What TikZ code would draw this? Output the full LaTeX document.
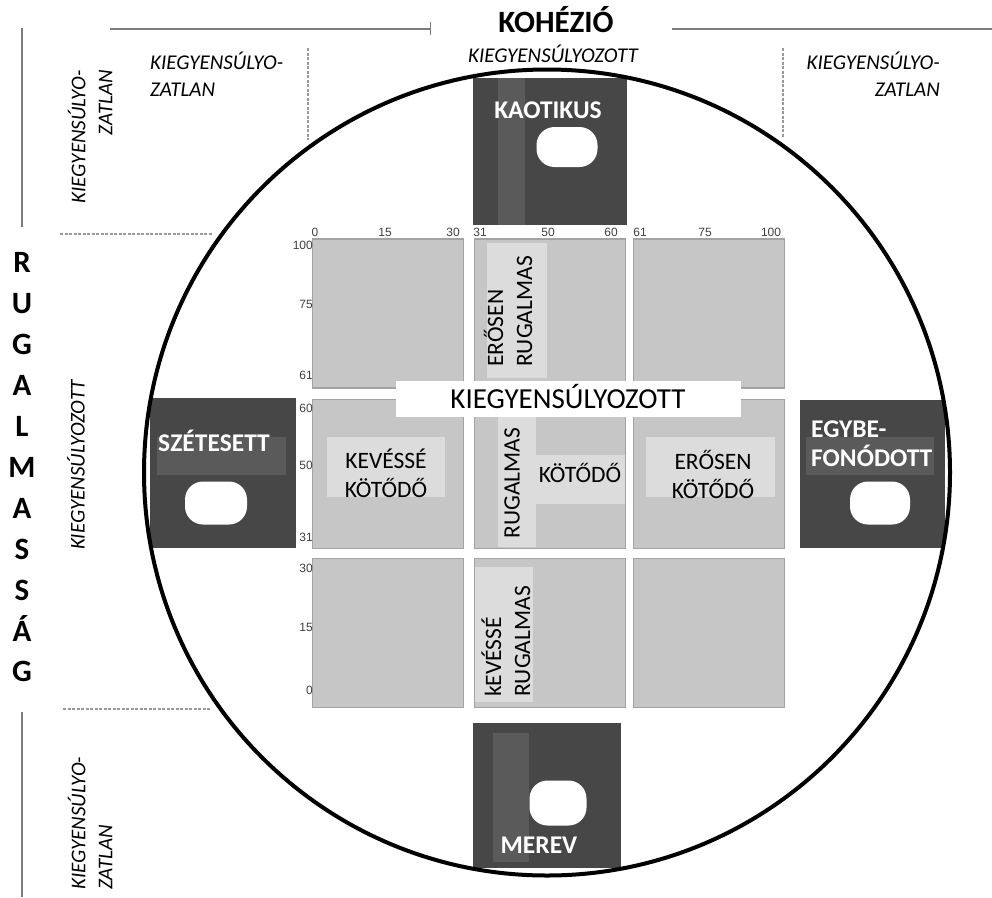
\documentclass[tikz,border=0pt]{standalone}
\usepackage{fontspec}
\setmainfont{Carlito}
\newfontfamily\tickfont{Liberation Sans}

\definecolor{darkfill}{HTML}{474747}
\definecolor{stripfill}{HTML}{5A5A5A}
\definecolor{cellfill}{HTML}{C6C6C6}
\definecolor{celledge}{HTML}{A3A3A3}
\definecolor{tagfill}{HTML}{DCDCDC}
\definecolor{rulegray}{HTML}{7C7C7C}

\tikzset{
  cell/.style={draw=celledge, line width=1.5pt, fill=cellfill, minimum width=151pt, minimum height=149pt, inner sep=0pt},
  darkbox/.style={fill=darkfill, inner sep=0pt},
  stripe/.style={fill=stripfill, inner sep=0pt},
  hole/.style={fill=white, rounded corners=18pt, inner sep=0pt},
  tagbox/.style={fill=tagfill, inner sep=0pt},
  tagtext/.style={font=\fontsize{23.5}{29}\selectfont, inner sep=0pt},
  boxtitle/.style={font=\fontsize{25.5}{29}\selectfont\bfseries, text=white, inner sep=0pt},
  slant/.style={font=\fontsize{21}{27}\selectfont\itshape, inner sep=0pt},
  tick/.style={font=\tickfont\fontsize{12}{12}\selectfont, text=black!75, inner sep=0pt},
  axisline/.style={draw=rulegray, line width=2.5pt},
  splitline/.style={draw=gray!80, line width=1.8pt, dash pattern=on 3pt off 1.5pt},
}

\begin{document}
\begin{tikzpicture}[x=1pt, y=-1pt]
    % Set the page
    \useasboundingbox (0,0) rectangle (992,897);
    \fill[white] (0,0) rectangle (992,897);

    % Draw the nine grid cells
    \node[cell] (c11) at (388,313.5) {};
    \node[cell] (c12) at (550,313.5) {};
    \node[cell] (c13) at (709,313.5) {};
    \node[cell] (c21) at (388,474) {};
    \node[cell] (c22) at (550,474) {};
    \node[cell] (c23) at (709,474) {};
    \node[cell] (c31) at (388,633) {};
    \node[cell] (c32) at (550,633) {};
    \node[cell] (c33) at (709,633) {};

    % Light label patches inside the cells
    \node[tagbox, minimum width=60pt, minimum height=135pt] (erbg) at (517,310.5) {};
    \node[tagbox, minimum width=38pt, minimum height=130pt] (rubg) at (517,482) {};
    \node[tagbox, minimum width=89pt, minimum height=49pt] (kobg) at (580.5,479.5) {};
    \node[tagbox, minimum width=118pt, minimum height=60pt] (kkbg) at (386,467) {};
    \node[tagbox, minimum width=129pt, minimum height=60pt] (ekbg) at (710.5,467) {};
    \node[tagbox, minimum width=58pt, minimum height=135pt] (krbg) at (504,634.5) {};

    \node[tagtext, rotate=90, align=left, anchor=west] (erosr) at (508,367) {ERŐSEN\\RUGALMAS};
    \node[tagtext, rotate=90] (rugm) at (512,483) {RUGALMAS};
    \node[tagtext] (kotm) at (580,473) {KÖTŐDŐ};
    \node[tagtext, align=center] (kevk) at (386,473) {KEVÉSSÉ\\KÖTŐDŐ};
    \node[tagtext, align=center] (erok) at (713,474) {ERŐSEN\\KÖTŐDŐ};
    \node[tagtext, rotate=90, align=left, anchor=west] (kevr) at (506,697) {kEVÉSSÉ\\RUGALMAS};

    % Middle label
    \node[fill=white, minimum width=345pt, minimum height=36pt, inner sep=0pt] (balbox) at (568.5,399) {};
    \node[font=\fontsize{29}{34}\selectfont, anchor=base, inner sep=0pt] (baltext) at (568,408) {KIEGYENSÚLYOZOTT};

    % Scale numbers on top
    \node[tick, anchor=base] (t0) at (315,236) {0};
    \node[tick, anchor=base] (t15) at (385,236) {15};
    \node[tick, anchor=base] (t30) at (453,236) {30};
    \node[tick, anchor=base] (t31) at (480,236) {31};
    \node[tick, anchor=base] (t50) at (548,236) {50};
    \node[tick, anchor=base] (t60) at (611,236) {60};
    \node[tick, anchor=base] (t61) at (640,236) {61};
    \node[tick, anchor=base] (t75) at (705,236) {75};
    \node[tick, anchor=base] (t100) at (771,236) {100};

    % Scale numbers on the left
    \node[tick, anchor=east] (l100) at (313,245) {100};
    \node[tick, anchor=east] (l75) at (313,304) {75};
    \node[tick, anchor=east] (l61) at (313,375) {61};
    \node[tick, anchor=east] (l60) at (313,408) {60};
    \node[tick, anchor=east] (l50) at (313,465) {50};
    \node[tick, anchor=east] (l31) at (313,537) {31};
    \node[tick, anchor=east] (l30) at (313,568) {30};
    \node[tick, anchor=east] (l15) at (313,627) {15};
    \node[tick, anchor=east] (l0) at (313,690) {0};

    % Dark boxes on the four sides
    \node[darkbox, minimum width=154pt, minimum height=147pt] (kaot) at (550,151.5) {};
    \node[stripe, minimum width=27pt, minimum height=147pt] (kaotstrip) at (511.5,151.5) {};
    \node[hole, minimum width=61pt, minimum height=40pt] (kaothole) at (567,147) {};
    \node[boxtitle, anchor=base] (kaotname) at (548,118) {KAOTIKUS};

    \node[darkbox, minimum width=146pt, minimum height=150pt] (szet) at (223,473) {};
    \node[stripe, minimum width=129pt, minimum height=38pt] (szetstrip) at (221.5,456) {};
    \node[hole, minimum width=62pt, minimum height=43pt] (szethole) at (216,503) {};
    \node[boxtitle, anchor=base] (szetname) at (214,451) {SZÉTESETT};

    \node[darkbox, minimum width=145pt, minimum height=148pt] (egyb) at (872.5,474) {};
    \node[stripe, minimum width=128pt, minimum height=38pt] (egybstrip) at (870,456) {};
    \node[hole, minimum width=60pt, minimum height=43pt] (egybhole) at (880,503) {};
    \node[boxtitle, align=left, anchor=west] (egybname) at (811,444) {EGYBE-\\FONÓDOTT};

    \node[darkbox, minimum width=148pt, minimum height=145pt] (merv) at (547,795.5) {};
    \node[stripe, minimum width=36pt, minimum height=129pt] (mervstrip) at (511,797.5) {};
    \node[hole, minimum width=57pt, minimum height=45pt] (mervhole) at (558,803) {};
    \node[boxtitle, anchor=base] (mervname) at (539,853) {MEREV};

    % Big circle
    \node[draw, circle, line width=4pt, minimum size=806pt, inner sep=0pt] (disc) at (547,472.5) {};

    % Axis lines
    \coordinate (kohl1) at (110,29);
    \coordinate (kohl2) at (430,29);
    \coordinate (kohr1) at (672,29);
    \coordinate (kohr2) at (992,29);
    \coordinate (tick1) at (430,22);
    \coordinate (tick2) at (430,35);
    \coordinate (rugt1) at (22,28);
    \coordinate (rugt2) at (22,227);
    \coordinate (rugb1) at (22,712);
    \coordinate (rugb2) at (22,897);
    \draw[axisline] (kohl1) -- (kohl2);
    \draw[draw=rulegray, line width=1pt] (tick1) -- (tick2);
    \draw[axisline] (kohr1) -- (kohr2);
    \draw[axisline] (rugt1) -- (rugt2);
    \draw[axisline] (rugb1) -- (rugb2);

    % Dashed dividers
    \coordinate (dv1a) at (308,48);
    \coordinate (dv1b) at (308,140);
    \coordinate (dv2a) at (783,48);
    \coordinate (dv2b) at (783,138);
    \coordinate (dh1a) at (60,234);
    \coordinate (dh1b) at (213,234);
    \coordinate (dh2a) at (63,709);
    \coordinate (dh2b) at (210,709);
    \draw[splitline] (dv1a) -- (dv1b);
    \draw[splitline] (dv2a) -- (dv2b);
    \draw[splitline] (dh1a) -- (dh1b);
    \draw[splitline] (dh2a) -- (dh2b);

    % Axis titles
    \node[font=\fontsize{31}{36}\selectfont\bfseries, anchor=base, inner sep=0pt] (koh) at (556,32) {KOHÉZIÓ};
    \node[slant, anchor=base] (kohbal) at (553,62) {KIEGYENSÚLYOZOTT};
    \node[font=\fontsize{31}{40.9}\selectfont\bfseries, align=center, inner sep=0pt] (rug) at (22,467.5) {R\\U\\G\\A\\L\\M\\A\\S\\S\\Á\\G};

    % Corner and side labels
    \node[slant, align=left, anchor=north west] (unbtl) at (150,52) {KIEGYENSÚLYO-\\ZATLAN};
    \node[slant, align=right, anchor=north east] (unbtr) at (940,52) {KIEGYENSÚLYO-\\ZATLAN};
    \node[slant, rotate=90, align=right, anchor=east] (unbl1) at (90,70) {KIEGYENSÚLYO-\\ZATLAN};
    \node[slant, rotate=90] (rugbal) at (76,465) {KIEGYENSÚLYOZOTT};
    \node[slant, rotate=90, align=left, anchor=west] (unbl2) at (90,890) {KIEGYENSÚLYO-\\ZATLAN};
\end{tikzpicture}
\end{document}
